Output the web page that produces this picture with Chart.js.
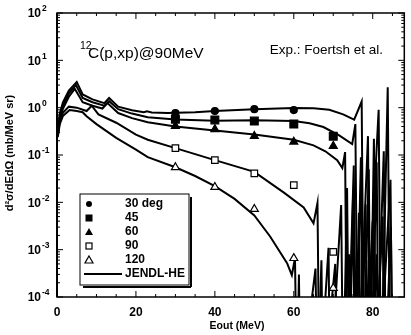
<!DOCTYPE html>
<html>
<head>
<meta charset="utf-8">
<script src="https://cdn.jsdelivr.net/npm/chart.js@4.4.0/dist/chart.umd.min.js"></script>
<style>
  html, body { margin: 0; padding: 0; background: #fff; }
  #wrap { width: 411px; height: 335px; position: relative; }
</style>
</head>
<body>
<div id="wrap"><canvas id="spec"></canvas></div>
<script>
// axis ticks
const xTicks = [0, 20, 40, 60, 80];
const yExponents = [-4, -3, -2, -1, 0, 1, 2];

// measured points (Foertsch et al.), energy in MeV, cross-section in mb/MeV sr
const expE = [30, 40, 50, 60, 70];
const exp30 = [0.77, 0.85, 0.93, 0.89];
const exp45 = [0.57, 0.55, 0.52, 0.45, 0.25];
const exp60 = [0.41, 0.35, 0.25, 0.19, 0.155];
const exp90 = [0.14, 0.078, 0.041, 0.023, 0.0009];
const exp120 = [0.055, 0.021, 0.0072, 0.00066, 0.000155];

// JENDL-HE curves as [E, value]; 1e-6 marks where a spike drops below the axis
const jendl30 = [[0.2,0.3],[0.7,0.75],[1.5,1.3],[3,2.3],[5,3.5],[6.5,1.9],[9,1.5],[12,1.25],[13.2,1.6],[15.5,1.05],
  [19,0.88],[22,0.8],[22.8,0.84],[24,0.79],[28,0.77],[35,0.8],[40,0.85],[50,0.93],[60,0.98],[65,0.97],[69,0.9],
  [72.5,0.72],[75.3,0.56],[77.2,1.35],[77.8,1e-6],[81.5,0.9],[82.1,1e-6],[83.8,2.7],[84.4,1e-6]];
const jendl45 = [[0.2,0.28],[0.7,0.65],[1.5,1.1],[3,2.0],[4.8,3.0],[6.5,1.6],[9,1.3],[12,1.1],[13.2,1.37],[15.5,0.93],
  [19,0.75],[23,0.63],[30,0.56],[40,0.53],[50,0.54],[60,0.52],[64,0.47],[67.5,0.39],[71.5,0.26],[74.8,0.17],
  [75.6,0.45],[76.2,1e-6],[78.8,0.25],[79.3,1e-6],[80.3,0.22],[80.8,1e-6],[82.8,0.12],[83.3,1e-6]];
const jendl60 = [[0.2,0.26],[0.7,0.55],[1.5,0.95],[3,1.7],[4.5,2.5],[6.5,1.3],[9,1.1],[11.5,0.96],[12.8,1.25],[15.5,0.77],
  [19,0.6],[23,0.49],[30,0.4],[40,0.33],[50,0.27],[60,0.21],[65,0.16],[68,0.12],[71,0.078],[72.3,0.053],
  [73,0.115],[73.5,1e-6],[75.2,0.06],[75.7,1e-6],[77,0.09],[77.5,1e-6],[79,0.05],[79.5,1e-6],[81,0.07],[81.5,1e-6],
  [84.5,0.03],[85,1e-6]];
const jendl90 = [[0.2,0.25],[0.7,0.5],[1.5,0.78],[3,1.05],[5,1.0],[7.5,0.85],[8.8,1.1],[10.5,0.72],[15,0.48],[20,0.27],
  [23,0.21],[30,0.14],[40,0.078],[50,0.044],[57.5,0.016],[62.5,0.0078],[65,0.0036],[66,0.0097],[66.5,1e-6],
  [68.8,0.0011],[69.2,1e-6],[72,0.0088],[72.5,1e-6],[73.5,0.02],[74,1e-6],[75,0.012],[75.5,1e-6],[76.5,0.006],[77,1e-6],
  [78.2,0.009],[78.7,1e-6],[80,0.004],[80.5,1e-6],[82.5,0.005],[83,1e-6],[84.6,0.003],[85.1,1e-6]];
const jendl120 = [[0.2,0.24],[0.7,0.45],[1.5,0.67],[3.2,0.89],[5,0.85],[6.5,0.8],[7.5,0.66],[10,0.45],[15,0.23],[20,0.13],
  [23,0.09],[30,0.055],[35,0.036],[40,0.022],[45,0.0118],[50,0.0053],[54,0.0019],[58.3,0.00052],[59.5,0.00029],
  [60.3,0.00066],[60.8,1e-6],[61.3,0.0003],[61.7,1e-6],[65.5,0.0004],[66,1e-6],[67,0.0006],[67.4,1e-6],[70.5,0.0005],
  [71,1e-6],[74,0.0008],[74.5,1e-6],[76,0.0009],[76.5,1e-6],[77.5,0.0007],[78,1e-6],[79,0.0006],[79.5,1e-6],
  [81,0.0008],[81.5,1e-6],[83,0.0005],[83.5,1e-6]];

const legendLabels = ["30 deg", "45", "60", "90", "120", "JENDL-HE"];

function curve(pts) {
  return {
    data: pts.map(p => ({ x: p[0], y: p[1] })),
    showLine: true, borderColor: "#000", borderWidth: 2, pointRadius: 0, tension: 0, order: 2
  };
}

function marks(vals, style, filled, r) {
  return {
    data: vals.map((v, i) => ({ x: expE[i], y: v })),
    showLine: false, pointStyle: style, pointRadius: r,
    backgroundColor: filled ? "#000" : "#fff", borderColor: "#000", borderWidth: 1.2, order: 1
  };
}

function line(ctx, x1, y1, x2, y2) {
  ctx.beginPath(); ctx.moveTo(x1, y1); ctx.lineTo(x2, y2); ctx.stroke();
}

function symbol(ctx, kind, x, y) {
  ctx.fillStyle = "#000"; ctx.strokeStyle = "#000"; ctx.lineWidth = 1.2;
  ctx.beginPath();
  if (kind === 0) { ctx.arc(x, y, 3, 0, Math.PI * 2); ctx.fill(); }
  else if (kind === 1) { ctx.fillRect(x - 3.5, y - 3.5, 7, 7); }
  else if (kind === 2) { ctx.moveTo(x, y - 4); ctx.lineTo(x + 4, y + 3); ctx.lineTo(x - 4, y + 3); ctx.closePath(); ctx.fill(); }
  else if (kind === 3) { ctx.strokeRect(x - 3, y - 3, 6, 6); }
  else { ctx.moveTo(x, y - 4); ctx.lineTo(x + 4, y + 3); ctx.lineTo(x - 4, y + 3); ctx.closePath(); ctx.stroke(); }
}

const frame = {
  id: "frame",
  afterDraw(chart) {
    const ctx = chart.ctx, a = chart.chartArea, xs = chart.scales.x, ys = chart.scales.y;
    ctx.save();
    ctx.strokeStyle = "#000";
    ctx.lineWidth = 1.5;
    ctx.strokeRect(a.left, a.top, a.right - a.left, a.bottom - a.top);
    ctx.lineWidth = 2;
    line(ctx, a.left, a.top, a.left, a.bottom);

    // inward ticks
    ctx.lineWidth = 1;
    for (let v = 0; v <= xs.max; v += 5) {
      const px = xs.getPixelForValue(v), len = v % 20 === 0 ? 6 : 3;
      line(ctx, px, a.bottom, px, a.bottom - len);
      line(ctx, px, a.top, px, a.top + len);
    }
    yExponents.forEach(e => {
      for (let m = 1; m <= 9; m++) {
        const val = m * Math.pow(10, e);
        if (val > ys.max) break;
        const py = ys.getPixelForValue(val), len = m === 1 ? 6 : 3;
        line(ctx, a.left, py, a.left + len, py);
        line(ctx, a.right, py, a.right - len, py);
      }
    });

    // tick labels
    ctx.fillStyle = "#000";
    ctx.font = "bold 12px 'Liberation Sans', Arial, sans-serif";
    ctx.textAlign = "center"; ctx.textBaseline = "middle";
    xTicks.forEach(v => ctx.fillText(String(v), xs.getPixelForValue(v), 313));
    yExponents.forEach(e => {
      const py = ys.getPixelForValue(Math.pow(10, e));
      ctx.font = "bold 12px 'Liberation Sans', Arial, sans-serif";
      ctx.textAlign = "right";
      ctx.fillText("10", 41, py + 1);
      ctx.font = "bold 8.5px 'Liberation Sans', Arial, sans-serif";
      ctx.textAlign = "left";
      ctx.fillText(String(e), 42, py - 4);
    });

    // axis titles
    ctx.font = "bold 10.5px 'Liberation Sans', Arial, sans-serif";
    ctx.textAlign = "center";
    ctx.fillText("Eout (MeV)", 237, 326);
    ctx.save();
    ctx.translate(10, 153);
    ctx.rotate(-Math.PI / 2);
    ctx.font = "bold 11px 'Liberation Sans', Arial, sans-serif";
    ctx.fillText("d\u00B2\u03C3/dEd\u03A9 (mb/MeV sr)", 0, 0);
    ctx.restore();

    // reaction label
    ctx.textAlign = "left"; ctx.textBaseline = "alphabetic";
    ctx.font = "10.5px 'Liberation Sans', Arial, sans-serif";
    ctx.fillText("12", 80, 49);
    ctx.font = "15.5px 'Liberation Sans', Arial, sans-serif";
    ctx.fillText("C(p,xp)@90MeV", 88, 58);
    ctx.font = "13.5px 'Liberation Sans', Arial, sans-serif";
    ctx.textAlign = "right";
    ctx.fillText("Exp.: Foertsh et al.", 383, 54);

    // legend box
    const bx = 80, by = 194, bw = 109, bh = 91;
    ctx.fillStyle = "#fff";
    ctx.fillRect(bx, by, bw, bh);
    ctx.lineWidth = 1;
    ctx.strokeRect(bx, by, bw, bh);
    ctx.lineWidth = 2;
    line(ctx, bx + 3, by + bh + 2, bx + bw + 2, by + bh + 2);
    line(ctx, bx + bw + 2, by + 3, bx + bw + 2, by + bh + 2);
    ctx.fillStyle = "#000";
    ctx.font = "bold 12px 'Liberation Sans', Arial, sans-serif";
    ctx.textAlign = "left"; ctx.textBaseline = "middle";
    legendLabels.forEach((lab, i) => {
      const ly = 204 + 14 * i;
      if (i < 5) symbol(ctx, i, 89, ly);
      else { ctx.lineWidth = 2; line(ctx, 84, ly, 122, ly); }
      ctx.fillText(lab, 125, ly);
    });
    ctx.restore();
  }
};

new Chart(document.getElementById("spec"), {
  type: "scatter",
  data: {
    datasets: [
      curve(jendl30), curve(jendl45), curve(jendl60), curve(jendl90), curve(jendl120),
      marks(exp30, "circle", true, 3.5),
      marks(exp45, "rect", true, 5.5),
      marks(exp60, "triangle", true, 4.6),
      marks(exp90, "rect", false, 4.6),
      marks(exp120, "triangle", false, 4.6)
    ]
  },
  options: {
    responsive: true,
    maintainAspectRatio: false,
    animation: false,
    layout: { padding: { left: 57, right: 1.5, top: 13, bottom: 38 } },
    plugins: { legend: { display: false }, tooltip: { enabled: false } },
    scales: {
      x: { type: "linear", min: 0, max: 88, display: false },
      y: { type: "logarithmic", min: 1e-4, max: 100, display: false }
    }
  },
  plugins: [frame]
});
</script>
</body>
</html>
